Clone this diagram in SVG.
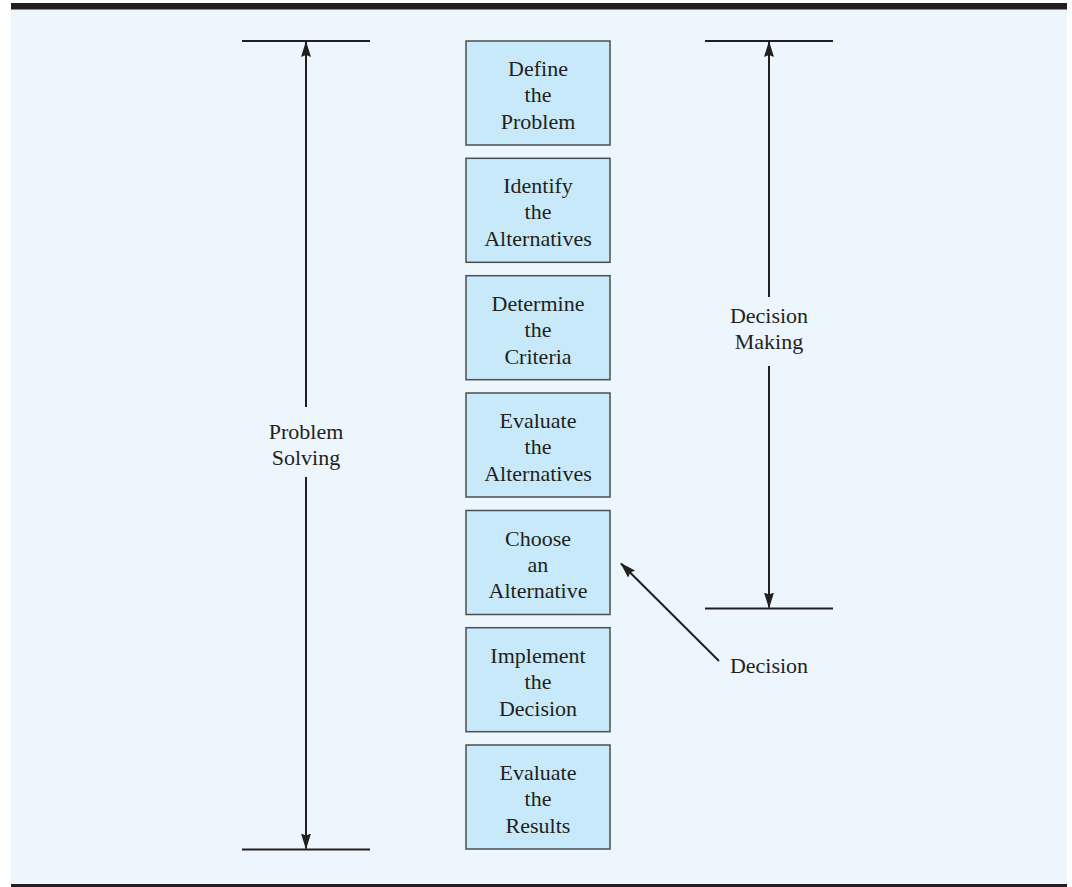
<svg xmlns="http://www.w3.org/2000/svg" width="1072" height="887" viewBox="0 0 1072 887">
<defs>
<style>
.bx{fill:#C7E9F9;stroke:#4D4D4D;stroke-width:1.5}
.t{font-family:"Liberation Serif","Times New Roman",serif;font-size:22px;fill:#231F20;text-anchor:middle}
.ln{stroke:#231F20;stroke-width:2;fill:none}
</style>
<marker id="ah" viewBox="0 0 16 10" refX="15" refY="5" markerWidth="16" markerHeight="10" markerUnits="userSpaceOnUse" orient="auto">
<path d="M0,0 L16,5 L0,10 L2,5 Z" fill="#231F20"/>
</marker>
</defs>
<rect x="0" y="0" width="1072" height="887" fill="#FFFFFF"/>
<rect x="11" y="9" width="1056" height="876" fill="#EEF6FD"/>
<rect x="11" y="3" width="1056" height="6.5" fill="#231F20"/>
<rect x="11" y="884" width="1056" height="3" fill="#231F20"/>

<g id="connectors">
<line class="ln" x1="242" y1="41" x2="370" y2="41"/>
<line class="ln" x1="242" y1="849.5" x2="370" y2="849.5"/>
<line class="ln" x1="306" y1="407" x2="306" y2="42" marker-end="url(#ah)"/>
<line class="ln" x1="306" y1="477" x2="306" y2="848.5" marker-end="url(#ah)"/>
<line class="ln" x1="705" y1="41" x2="833" y2="41"/>
<line class="ln" x1="705" y1="608.5" x2="833" y2="608.5"/>
<line class="ln" x1="769" y1="297" x2="769" y2="42" marker-end="url(#ah)"/>
<line class="ln" x1="769" y1="366" x2="769" y2="607.5" marker-end="url(#ah)"/>
<line class="ln" x1="719" y1="661" x2="621" y2="563.5" marker-end="url(#ah)"/>
</g>

<g id="label-problem-solving">
<text class="t" x="306" y="439">Problem</text>
<text class="t" x="306" y="465">Solving</text>
</g>
<g id="label-decision-making">
<text class="t" x="769" y="323">Decision</text>
<text class="t" x="769" y="349">Making</text>
</g>
<g id="label-decision">
<text class="t" x="769" y="673">Decision</text>
</g>

<g id="n1">
<rect class="bx" x="466" y="41" width="144" height="104"/>
<text class="t" x="538" y="76">Define</text>
<text class="t" x="538" y="102">the</text>
<text class="t" x="538" y="129">Problem</text>
</g>
<g id="n2">
<rect class="bx" x="466" y="158.3" width="144" height="104"/>
<text class="t" x="538" y="193.3">Identify</text>
<text class="t" x="538" y="219.3">the</text>
<text class="t" x="538" y="246.3">Alternatives</text>
</g>
<g id="n3">
<rect class="bx" x="466" y="275.7" width="144" height="104"/>
<text class="t" x="538" y="310.7">Determine</text>
<text class="t" x="538" y="336.7">the</text>
<text class="t" x="538" y="363.7">Criteria</text>
</g>
<g id="n4">
<rect class="bx" x="466" y="393" width="144" height="104"/>
<text class="t" x="538" y="428">Evaluate</text>
<text class="t" x="538" y="454">the</text>
<text class="t" x="538" y="481">Alternatives</text>
</g>
<g id="n5">
<rect class="bx" x="466" y="510.5" width="144" height="104"/>
<text class="t" x="538" y="545.5">Choose</text>
<text class="t" x="538" y="571.5">an</text>
<text class="t" x="538" y="598">Alternative</text>
</g>
<g id="n6">
<rect class="bx" x="466" y="627.7" width="144" height="104"/>
<text class="t" x="538" y="662.7">Implement</text>
<text class="t" x="538" y="688.7">the</text>
<text class="t" x="538" y="715.7">Decision</text>
</g>
<g id="n7">
<rect class="bx" x="466" y="745" width="144" height="104"/>
<text class="t" x="538" y="780">Evaluate</text>
<text class="t" x="538" y="806">the</text>
<text class="t" x="538" y="833">Results</text>
</g>
</svg>
